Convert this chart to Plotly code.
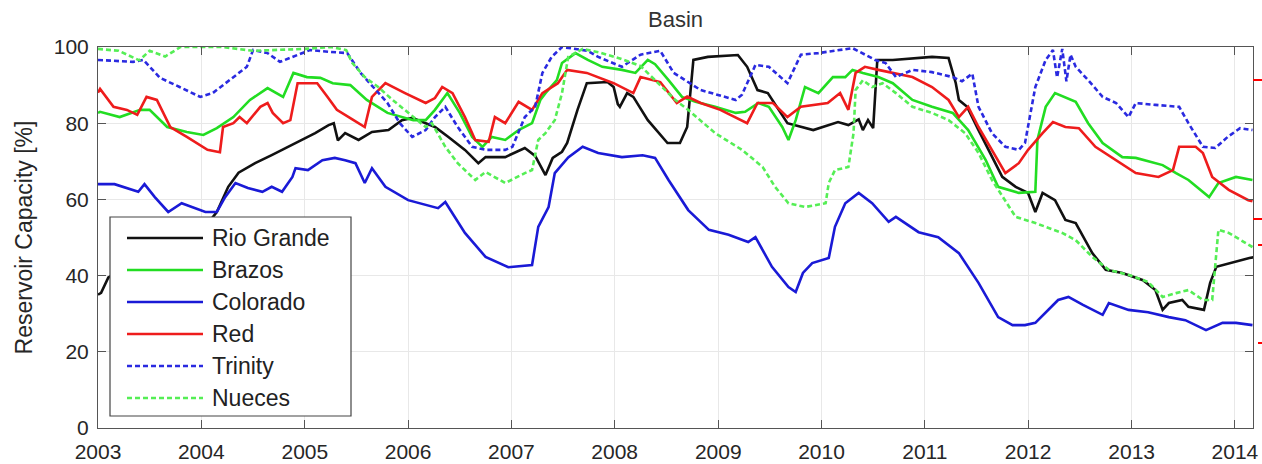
import pandas as pd
import plotly.graph_objects as go

# ---------------- data (decimal years, reservoir capacity %) ----------------
rio_t = [2003.00, 2003.03, 2003.10, 2003.41, 2003.79, 2004.10, 2004.15, 2004.26, 2004.36, 2004.52,
         2004.68, 2004.84, 2004.98, 2005.10, 2005.23, 2005.28, 2005.32, 2005.39, 2005.52, 2005.65,
         2005.81, 2005.94, 2006.04, 2006.17, 2006.26, 2006.39, 2006.55, 2006.68, 2006.75, 2006.94,
         2007.13, 2007.23, 2007.33, 2007.40, 2007.49, 2007.54, 2007.64, 2007.73, 2007.93, 2007.99,
         2008.03, 2008.05, 2008.12, 2008.18, 2008.32, 2008.51, 2008.63, 2008.70, 2008.76, 2008.90,
         2009.19, 2009.28, 2009.38, 2009.48, 2009.67, 2009.92, 2010.16, 2010.26, 2010.36, 2010.40,
         2010.45, 2010.50, 2010.54, 2010.69, 2011.07, 2011.23, 2011.30, 2011.33, 2011.41, 2011.52,
         2011.65, 2011.75, 2011.88, 2012.00, 2012.07, 2012.14, 2012.26, 2012.36, 2012.46, 2012.62,
         2012.75, 2012.91, 2013.11, 2013.23, 2013.30, 2013.36, 2013.49, 2013.55, 2013.70, 2013.76,
         2013.82, 2013.95, 2014.14, 2014.18]
rio_v = [35, 35.5, 39.5, 44, 50, 55, 56.7, 63.3, 67, 69.5,
         71.6, 73.8, 75.6, 77.4, 79.5, 80, 75.5, 77.4, 75.6, 77.7,
         78.2, 80.8, 81.4, 80, 79, 76.4, 73, 69.5, 71.1, 71.1,
         73.5, 71.4, 66.4, 70.9, 72.5, 74.8, 83.5, 90.5, 90.8, 89.5,
         85, 84.3, 87.9, 86.9, 80.8, 74.8, 74.8, 79, 96.6, 97.4,
         97.9, 94.8, 88.7, 87.9, 80, 78.2, 80.3, 79.5, 81, 78.2,
         80.8, 78.7, 96.6, 96.6, 97.4, 97.1, 90.5, 86.1, 84.3, 78.2,
         71.1, 65.9, 63.3, 61.7, 56.7, 61.7, 59.8, 54.6, 53.8, 45.9,
         41.5, 40.7, 38.8, 36.2, 31, 32.8, 33.6, 31.8, 31, 38.1,
         42.3, 43.3, 44.6, 44.8]

brazos_t = [2003.00, 2003.02, 2003.21, 2003.41, 2003.50, 2003.67, 2003.86, 2004.02, 2004.15, 2004.31,
            2004.47, 2004.64, 2004.79, 2004.89, 2005.02, 2005.15, 2005.27, 2005.44, 2005.60, 2005.80,
            2006.05, 2006.17, 2006.26, 2006.38, 2006.50, 2006.62, 2006.72, 2006.81, 2006.94, 2007.07,
            2007.20, 2007.28, 2007.33, 2007.44, 2007.49, 2007.62, 2007.74, 2007.88, 2008.07, 2008.20,
            2008.32, 2008.39, 2008.52, 2008.65, 2008.78, 2008.97, 2009.17, 2009.26, 2009.39, 2009.49,
            2009.62, 2009.68, 2009.75, 2009.84, 2009.97, 2010.11, 2010.23, 2010.30, 2010.40, 2010.55,
            2010.69, 2010.88, 2011.07, 2011.27, 2011.42, 2011.59, 2011.71, 2011.91, 2012.07, 2012.09,
            2012.17, 2012.26, 2012.46, 2012.58, 2012.72, 2012.91, 2013.04, 2013.30, 2013.43, 2013.55,
            2013.75, 2013.84, 2014.01, 2014.17]
brazos_v = [82.7, 83, 81.6, 83.5, 83.5, 79, 77.7, 76.9, 78.7, 81.6,
            86.1, 89.2, 86.9, 93.2, 92.1, 91.9, 90.5, 90, 86.1, 82.7,
            80.8, 80.8, 83.5, 87.9, 82.7, 76.4, 73.8, 76.4, 75.6, 78.2,
            80, 86.1, 87.9, 91.3, 95.8, 98.4, 96.6, 94.8, 94, 93.2,
            96.6, 95.5, 91.3, 86.9, 85.6, 84.3, 82.7, 83, 85.3, 84.3,
            79, 75.6, 80.8, 89.5, 87.9, 92.1, 92.1, 94, 93.2, 92.1,
            90.5, 86.1, 84.3, 82.7, 78.2, 70.3, 63.3, 61.7, 62, 75.6,
            84.3, 87.9, 85.6, 80, 74.8, 71.1, 70.9, 69, 66.9, 65.1,
            60.6, 64.3, 65.9, 65.1]

colorado_t = [2003.00, 2003.16, 2003.39, 2003.45, 2003.55, 2003.68, 2003.81, 2004.04, 2004.15, 2004.23,
              2004.33, 2004.45, 2004.59, 2004.68, 2004.78, 2004.88, 2004.91, 2005.03, 2005.17, 2005.29,
              2005.39, 2005.49, 2005.58, 2005.65, 2005.78, 2006.00, 2006.29, 2006.36, 2006.55, 2006.75,
              2006.97, 2007.20, 2007.26, 2007.36, 2007.42, 2007.55, 2007.69, 2007.84, 2008.07, 2008.27,
              2008.39, 2008.52, 2008.71, 2008.91, 2009.10, 2009.29, 2009.36, 2009.52, 2009.68, 2009.75,
              2009.82, 2009.91, 2010.07, 2010.13, 2010.23, 2010.36, 2010.49, 2010.65, 2010.72, 2010.94,
              2011.13, 2011.33, 2011.52, 2011.71, 2011.85, 2011.97, 2012.07, 2012.20, 2012.29, 2012.39,
              2012.53, 2012.72, 2012.78, 2012.97, 2013.16, 2013.36, 2013.52, 2013.72, 2013.88, 2014.01,
              2014.17]
colorado_v = [64, 64, 62, 64, 60.6, 56.7, 59, 56.7, 56.7, 60.6,
              64.3, 63, 62, 63.3, 62, 65.9, 68.2, 67.7, 70.3, 70.9,
              70.3, 69.5, 64.3, 68.2, 63.3, 59.8, 57.7, 59.3, 51.2, 44.9,
              42.2, 42.8, 52.8, 58, 66.9, 71, 73.8, 72.2, 71.1, 71.6,
              70.9, 65.1, 57.2, 52, 50.7, 48.8, 50.1, 42.3, 37, 35.7,
              40.7, 43.3, 44.6, 52.8, 59, 61.7, 59, 54.1, 55.4, 51.4,
              50.1, 45.9, 38.1, 29.1, 27, 27, 27.6, 31, 33.6, 34.4,
              32.3, 29.7, 32.8, 31, 30.4, 29.1, 28.3, 25.7, 27.6, 27.6,
              27]

red_t = [2003.00, 2003.02, 2003.15, 2003.28, 2003.38, 2003.47, 2003.57, 2003.70, 2003.86, 2004.06,
         2004.18, 2004.21, 2004.31, 2004.37, 2004.44, 2004.57, 2004.64, 2004.69, 2004.79, 2004.86,
         2004.93, 2005.12, 2005.22, 2005.31, 2005.46, 2005.58, 2005.65, 2005.78, 2005.97, 2006.17,
         2006.26, 2006.33, 2006.43, 2006.55, 2006.65, 2006.78, 2006.84, 2006.94, 2007.07, 2007.20,
         2007.30, 2007.45, 2007.54, 2007.73, 2007.99, 2008.18, 2008.25, 2008.44, 2008.60, 2008.70,
         2008.83, 2009.02, 2009.28, 2009.38, 2009.53, 2009.67, 2009.80, 2010.06, 2010.18, 2010.26,
         2010.33, 2010.42, 2010.55, 2010.69, 2010.88, 2011.07, 2011.23, 2011.33, 2011.42, 2011.52,
         2011.65, 2011.78, 2011.91, 2012.00, 2012.14, 2012.24, 2012.36, 2012.49, 2012.65, 2012.85,
         2013.04, 2013.26, 2013.40, 2013.46, 2013.62, 2013.69, 2013.78, 2013.94, 2014.13, 2014.17]
red_v = [88, 89, 84.3, 83.5, 82.2, 86.9, 86.1, 79, 76.4, 73,
         72.4, 79, 80, 81.6, 80, 84.3, 85.3, 82.7, 80, 80.8,
         90.5, 90.5, 86.9, 83.5, 81, 79, 86.9, 90.5, 87.9, 85.3,
         86.6, 89.5, 87.9, 81.6, 75.6, 75.1, 81.6, 80, 85.6, 83.5,
         87.9, 90.5, 94, 93.2, 90.5, 87.9, 92.1, 90.8, 85.3, 87,
         85.3, 83.5, 80, 85.3, 85.3, 81.6, 84.3, 85.3, 87.9, 83.5,
         93.2, 94.8, 94, 93.2, 92.1, 89.5, 86.1, 81.6, 84.3, 79,
         73, 66.9, 69.5, 73, 77.4, 80.3, 79, 78.7, 73.8, 70.3,
         66.9, 65.9, 67.7, 73.8, 73.8, 72.2, 65.9, 62.5, 59.8, 59.5]

trinity_t = [2003.00, 2003.34, 2003.44, 2003.60, 2003.79, 2003.99, 2004.11, 2004.31, 2004.44, 2004.50,
             2004.64, 2004.76, 2004.89, 2005.05, 2005.25, 2005.41, 2005.54, 2005.66, 2005.80, 2005.92,
             2006.04, 2006.17, 2006.26, 2006.36, 2006.48, 2006.62, 2006.75, 2006.94, 2007.01, 2007.13,
             2007.23, 2007.30, 2007.39, 2007.49, 2007.74, 2007.84, 2008.07, 2008.25, 2008.44, 2008.57,
             2008.83, 2009.17, 2009.23, 2009.36, 2009.49, 2009.67, 2009.80, 2009.97, 2010.30, 2010.52,
             2010.62, 2010.72, 2010.88, 2011.07, 2011.27, 2011.36, 2011.46, 2011.52, 2011.65, 2011.78,
             2011.91, 2011.97, 2012.07, 2012.17, 2012.24, 2012.28, 2012.33, 2012.37, 2012.41, 2012.46,
             2012.58, 2012.72, 2012.85, 2012.97, 2013.04, 2013.23, 2013.46, 2013.55, 2013.69, 2013.81,
             2013.93, 2014.05, 2014.17]
trinity_v = [96.6, 96.1, 96.6, 91.9, 89.5, 86.9, 87.9, 92.1, 94.8, 99.2,
             98.4, 96.1, 97.4, 99.2, 98.7, 98.4, 93.2, 89.5, 85.3, 80,
             76.4, 78.2, 81.6, 84.3, 79, 73.8, 73, 73, 73.8, 81.6,
             84.3, 93.2, 97.4, 100, 99, 97.4, 94.8, 98, 99, 93.2,
             88.7, 86.1, 87.5, 95.3, 94.8, 90.5, 98, 98.4, 99.7, 96.6,
             95.8, 92.1, 94, 93.4, 92.1, 91, 93, 84.3, 77.4, 73.8,
             73, 74.8, 89.5, 96.6, 99.2, 92, 99.5, 91, 98, 94.8,
             91.3, 86.9, 85.3, 81.6, 85.3, 84.8, 84.3, 80, 73.8, 73.5,
             76.4, 78.7, 78.2]

nueces_t = [2003.00, 2003.20, 2003.40, 2003.50, 2003.65, 2003.80, 2004.20, 2004.50, 2005.00, 2005.25,
            2005.40, 2005.46, 2005.58, 2005.71, 2005.85, 2006.00, 2006.17, 2006.23, 2006.36, 2006.48,
            2006.65, 2006.75, 2006.94, 2007.13, 2007.20, 2007.26, 2007.33, 2007.42, 2007.49, 2007.55,
            2007.69, 2007.86, 2008.05, 2008.25, 2008.44, 2008.59, 2008.71, 2008.97, 2009.23, 2009.43,
            2009.55, 2009.68, 2009.84, 2010.04, 2010.07, 2010.13, 2010.26, 2010.31, 2010.33, 2010.40,
            2010.49, 2010.59, 2010.72, 2010.88, 2011.07, 2011.23, 2011.39, 2011.52, 2011.65, 2011.78,
            2011.88, 2012.07, 2012.33, 2012.46, 2012.62, 2012.78, 2012.97, 2013.16, 2013.30, 2013.43,
            2013.55, 2013.69, 2013.78, 2013.84, 2013.94, 2014.17]
nueces_v = [99.5, 99, 96.5, 99, 97.5, 100, 100, 99, 99.5, 100,
            99.2, 95.8, 92.1, 89.5, 86.1, 82.7, 79, 80, 73.8, 69.5,
            65.1, 67.2, 64.3, 66.9, 67.7, 75.6, 77.4, 80.8, 87.9, 97.4,
            99.5, 98.5, 97, 95, 90, 86, 83.5, 77.4, 73, 68.5,
            63.3, 59, 58, 59, 64.3, 67.7, 68.5, 77.4, 88.7, 91.3,
            89.5, 90.5, 87.9, 84.3, 82.7, 80.8, 77.4, 72.2, 65.1, 59.8,
            55.4, 53.8, 51.2, 49.3, 44.9, 41.5, 40.2, 38.3, 34.4, 35.4,
            36.2, 33.6, 33.6, 52, 51.2, 47.5]

series_names = ["Rio Grande", "Brazos", "Colorado", "Red", "Trinity", "Nueces"]
series_t = [rio_t, brazos_t, colorado_t, red_t, trinity_t, nueces_t]
series_v = [rio_v, brazos_v, colorado_v, red_v, trinity_v, nueces_v]
series_color = ["#111111", "#22dd22", "#1a1ad6", "#ee1c1c", "#2a2ae0", "#55ee55"]
series_dash = ["solid", "solid", "solid", "solid", "5px,3px", "5px,3px"]

y_ticks = [0, 20, 40, 60, 80, 100]


def to_date(y):
    yr = int(y)
    start = pd.Timestamp(yr, 1, 1)
    end = pd.Timestamp(yr + 1, 1, 1)
    return start + (end - start) * (y - yr)


FONT = "Arial, Liberation Sans, Helvetica, sans-serif"
W, H = 1262, 464
ML, MR, MT, MB = 98, 9, 47, 36
PW, PH = W - ML - MR, H - MT - MB

fig = go.Figure()
for name, t, v, c, d in zip(series_names, series_t, series_v, series_color, series_dash):
    fig.add_trace(go.Scatter(
        x=[to_date(a) for a in t], y=v, name=name, mode="lines",
        line=dict(color=c, width=2.6, dash=d), showlegend=False))

# ---- manual legend box (MATLAB style) ----
def px_x(px):
    return (px - ML) / PW


def px_y(py):
    return (H - MB - py) / PH


shapes = [dict(type="rect", xref="paper", yref="paper",
               x0=px_x(110), x1=px_x(351), y0=px_y(416), y1=px_y(217),
               line=dict(color="#444", width=1.2), fillcolor="white", layer="above")]
annotations = []
for i, (name, c, d) in enumerate(zip(series_names, series_color, series_dash)):
    yc = px_y(238 + i * 32)
    shapes.append(dict(type="line", xref="paper", yref="paper",
                       x0=px_x(127), x1=px_x(203), y0=yc, y1=yc,
                       line=dict(color=c, width=2.6, dash=d), layer="above"))
    annotations.append(dict(xref="paper", yref="paper", x=px_x(210), y=yc,
                            text=name, showarrow=False, xanchor="left", yanchor="middle",
                            font=dict(family=FONT, size=23, color="#222")))

# small red marks at the right edge
for py, x0 in [(80, 1253), (219, 1253), (245, 1258), (343, 1258)]:
    shapes.append(dict(type="line", xref="paper", yref="paper",
                       x0=px_x(x0), x1=px_x(1262), y0=px_y(py), y1=px_y(py),
                       line=dict(color="#ff0000", width=2), layer="above"))

fig.update_layout(
    width=W, height=H,
    margin=dict(l=ML, r=MR, t=MT, b=MB, pad=0),
    paper_bgcolor="white", plot_bgcolor="white",
    title=dict(text="Basin", x=(ML + PW / 2) / W, xanchor="center", y=1 - 19 / H, yanchor="middle",
               font=dict(family=FONT, size=22, color="#333")),
    shapes=shapes, annotations=annotations,
    showlegend=False,
)
fig.update_xaxes(
    type="date", range=[to_date(2003.0), to_date(2014.175)],
    tick0="2003-01-01", dtick="M12", tickformat="%Y",
    showgrid=True, gridcolor="#e8e8e8", gridwidth=1,
    showline=True, linecolor="#555", linewidth=1, mirror="ticks",
    ticks="inside", ticklen=8, tickcolor="#555",
    tickfont=dict(family=FONT, size=21, color="#262626"),
    ticklabelstandoff=5, zeroline=False, automargin=False,
)
fig.update_yaxes(
    range=[0, 100], tickvals=y_ticks,
    showgrid=True, gridcolor="#e8e8e8", gridwidth=1,
    showline=True, linecolor="#555", linewidth=1, mirror="ticks",
    ticks="inside", ticklen=8, tickcolor="#555",
    tickfont=dict(family=FONT, size=21, color="#262626"),
    ticklabelstandoff=4, zeroline=False, automargin=False,
    title=dict(text="Reservoir Capacity [%]", standoff=14,
               font=dict(family=FONT, size=23, color="#262626")),
)

fig.write_html("out.html", config={"displayModeBar": False},
               post_script="document.body.style.margin='0';")
